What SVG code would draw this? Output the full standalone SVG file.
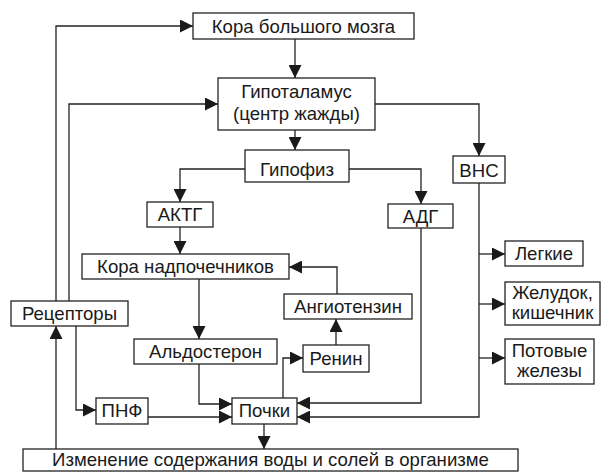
<svg xmlns="http://www.w3.org/2000/svg" width="602" height="472" viewBox="0 0 602 472">
<style>
rect.b{fill:#fff;stroke:#222;stroke-width:1.3}
text{font-family:"Liberation Sans",Arial,sans-serif;font-size:18.6px;fill:#1a1a1a;text-anchor:middle}
.c path{fill:none;stroke:#222;stroke-width:1.3;marker-end:url(#ah)}
</style>
<defs>
<marker id="ah" markerUnits="userSpaceOnUse" markerWidth="14" markerHeight="13" refX="13" refY="6.5" orient="auto">
<path d="M0,0 L13,6.5 L0,13 z" fill="#1a1a1a"/>
</marker>
</defs>
<rect width="602" height="472" fill="#fff"/>
<g class="c" id="connectors">
<path d="M295,39 V78"/>
<path d="M295,130 V150"/>
<path d="M375,104 H479 V156"/>
<path d="M245,169 H180 V202"/>
<path d="M349,169 H421 V204"/>
<path d="M180,227 V254"/>
<path d="M199,279 V339"/>
<path d="M199,364 V404 H232"/>
<path d="M421,228 V403 H297"/>
<path d="M479,183 V417 H297"/>
<path d="M479,254 H505"/>
<path d="M479,304 H505"/>
<path d="M479,358 H505"/>
<path d="M283,398 V358 H303"/>
<path d="M336,345 V319"/>
<path d="M337,294 V267 H289"/>
<path d="M264,424 V449"/>
<path d="M56,449 V326"/>
<path d="M56,301 V26 H193"/>
<path d="M69,301 V104 H218"/>
<path d="M76,326 V410 H96"/>
<path d="M148,417 H232"/>
</g>
<g id="kora"><rect class="b" x="193" y="13" width="221" height="26"/><text x="303.5" y="33">Кора большого мозга</text></g>
<g id="hypothalamus"><rect class="b" x="218" y="78" width="157" height="52"/><text x="296.5" y="97.5">Гипоталамус</text><text x="296.5" y="119.5">(центр жажды)</text></g>
<g id="hypophysis"><rect class="b" x="245" y="150" width="104" height="32"/><text x="297" y="176">Гипофиз</text></g>
<g id="vns"><rect class="b" x="453" y="156" width="52" height="27"/><text x="479" y="177">ВНС</text></g>
<g id="aktg"><rect class="b" x="147" y="202" width="66" height="25"/><text x="180" y="221">АКТГ</text></g>
<g id="adg"><rect class="b" x="388" y="204" width="65" height="24"/><text x="420.5" y="222.5">АДГ</text></g>
<g id="kora-nadp"><rect class="b" x="82" y="254" width="207" height="25"/><text x="185.5" y="272.5">Кора надпочечников</text></g>
<g id="angiotensin"><rect class="b" x="284" y="294" width="128" height="25"/><text x="348" y="312.5">Ангиотензин</text></g>
<g id="receptors"><rect class="b" x="11" y="301" width="117" height="25"/><text x="69.5" y="319.5">Рецепторы</text></g>
<g id="aldosterone"><rect class="b" x="134" y="339" width="143" height="25"/><text x="205.5" y="357.5">Альдостерон</text></g>
<g id="renin"><rect class="b" x="303" y="345" width="66" height="27"/><text x="336" y="364.5">Ренин</text></g>
<g id="pnf"><rect class="b" x="96" y="398" width="52" height="26"/><text x="122" y="416.5">ПНФ</text></g>
<g id="pochki"><rect class="b" x="232" y="398" width="65" height="26"/><text x="264.5" y="416.5">Почки</text></g>
<g id="legkie"><rect class="b" x="505" y="241" width="78" height="25"/><text x="544" y="259.5">Легкие</text></g>
<g id="zheludok"><rect class="b" x="505" y="282" width="95" height="43"/><text x="552.5" y="299">Желудок,</text><text x="552.5" y="319">кишечник</text></g>
<g id="potovye"><rect class="b" x="505" y="339" width="89" height="45"/><text x="549.5" y="357">Потовые</text><text x="549.5" y="377">железы</text></g>
<g id="izmenenie"><rect class="b" x="23" y="449" width="495" height="22"/><text x="270.5" y="466">Изменение содержания воды и солей в организме</text></g>
</svg>
